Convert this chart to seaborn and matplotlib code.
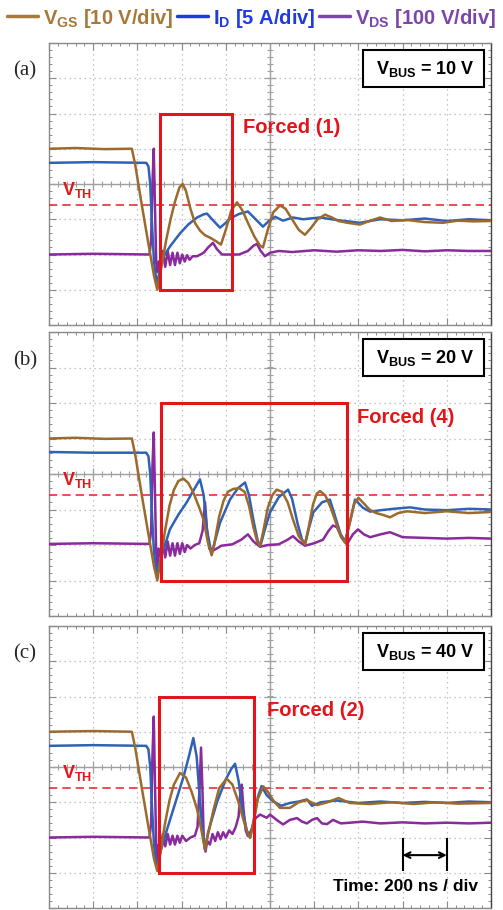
import numpy as np
import pandas as pd
import matplotlib
matplotlib.use("Agg")
import matplotlib.pyplot as plt
import matplotlib.transforms as mtransforms
import seaborn as sns
from matplotlib.lines import Line2D
from matplotlib.patches import Rectangle
from matplotlib.ticker import MultipleLocator

# ---------------- data (time in ns, amplitude in scope divisions) ----------------
vgs_a = [(0, 1.0), (120, 1.02), (250, 0.99), (375, 1.0), (390, 0.55), (420, -0.6), (450, -1.7), (475, -2.6),
         (490, -3.0), (510, -2.3), (530, -1.6), (550, -1.0), (570, -0.5), (590, -0.1), (605, 0.0), (620, -0.2),
         (640, -0.7), (660, -1.1), (683, -1.32), (705, -1.45), (728, -1.52), (755, -1.62), (778, -1.72),
         (800, -1.3), (825, -0.75), (851, -0.52), (875, -0.75), (900, -1.1), (930, -1.5), (955, -1.75),
         (968, -1.8), (990, -1.3), (1015, -0.8), (1045, -0.61), (1070, -0.7), (1100, -1.0), (1130, -1.3),
         (1158, -1.44), (1185, -1.25), (1215, -1.0), (1249, -0.87), (1280, -0.95), (1310, -1.05), (1350, -1.1),
         (1407, -1.15), (1450, -1.05), (1498, -0.95), (1550, -1.05), (1620, -1.02), (1700, -1.08), (1783, -1.1),
         (1850, -1.04), (1920, -1.06), (2000, -1.05)]
id_a = [(0, 0.6), (200, 0.62), (440, 0.6), (450, 0.5), (458, 0.0), (465, -1.0), (475, -2.2), (488, -2.85),
        (500, -2.5), (513, -2.1), (550, -1.75), (593, -1.4), (630, -1.15), (670, -0.95), (700, -0.86),
        (715, -0.84), (745, -1.05), (774, -1.24), (800, -1.1), (819, -0.98), (860, -0.85), (900, -0.78),
        (935, -1.0), (968, -1.21), (995, -1.05), (1023, -0.93), (1059, -1.04), (1104, -0.95), (1150, -1.0),
        (1226, -0.95), (1300, -1.02), (1407, -1.1), (1498, -1.0), (1600, -1.03), (1700, -0.98), (1800, -1.05),
        (1900, -1.0), (2000, -1.03)]
vds_a = [(0, -2.0), (200, -1.98), (455, -2.0), (462, -1.6), (468, 0.0), (474, 1.0), (479, -0.5), (485, -2.2),
         (490, -2.5), (496, -2.2), (505, -2.4), (515, -1.9), (526, -2.35), (537, -1.9), (548, -2.3),
         (559, -1.95), (570, -2.3), (581, -1.95), (592, -2.25), (603, -2.0), (614, -2.2), (625, -2.02),
         (636, -2.15), (650, -2.05), (670, -2.05), (700, -1.95), (720, -1.8), (742, -1.67), (760, -1.85),
         (783, -2.0), (820, -2.0), (860, -2.0), (900, -1.9), (925, -1.75), (941, -1.7), (958, -1.9), (977, -2.05),
         (1000, -1.95), (1040, -1.9), (1100, -1.93), (1200, -1.88), (1300, -1.92), (1400, -1.88), (1500, -1.9),
         (1600, -1.87), (1700, -1.91), (1800, -1.88), (1900, -1.9), (2000, -1.9)]

vgs_b = [(0, 1.0), (120, 1.02), (250, 0.99), (375, 1.0), (390, 0.55), (420, -0.6), (450, -1.7), (475, -2.6),
         (490, -3.0), (505, -2.4), (525, -1.6), (545, -0.9), (565, -0.45), (585, -0.2), (608, -0.13),
         (630, -0.25), (655, -0.55), (680, -0.95), (700, -1.3), (718, -1.9), (736, -2.29), (750, -1.9),
         (770, -1.2), (790, -0.75), (810, -0.5), (834, -0.42), (860, -0.4), (885, -0.5), (905, -0.9),
         (925, -1.5), (942, -1.9), (955, -2.03), (970, -1.6), (990, -0.95), (1010, -0.6), (1030, -0.44),
         (1055, -0.5), (1080, -0.8), (1105, -1.3), (1130, -1.75), (1158, -1.98), (1175, -1.5), (1195, -0.85),
         (1212, -0.55), (1226, -0.48), (1250, -0.6), (1275, -0.95), (1300, -1.4), (1320, -1.75), (1339, -1.93),
         (1360, -1.4), (1380, -0.85), (1400, -0.67), (1420, -0.8), (1450, -1.0), (1480, -1.1), (1510, -1.15),
         (1543, -1.22), (1580, -1.1), (1620, -1.05), (1700, -1.1), (1800, -1.05), (1900, -1.1), (2000, -1.07)]
id_b = [(0, 0.62), (200, 0.6), (440, 0.6), (450, 0.5), (458, 0.0), (465, -1.0), (475, -2.2), (488, -2.85),
        (500, -2.5), (547, -1.56), (585, -1.15), (623, -0.8), (655, -0.45), (683, -0.15), (700, -0.6),
        (715, -1.6), (736, -2.25), (755, -1.8), (774, -1.37), (819, -0.72), (855, -0.4), (887, -0.24),
        (905, -0.6), (925, -1.3), (945, -1.9), (958, -2.0), (975, -1.6), (1000, -1.08), (1040, -0.65),
        (1082, -0.44), (1100, -0.7), (1125, -1.4), (1145, -1.85), (1160, -1.95), (1175, -1.55), (1196, -1.08),
        (1235, -0.8), (1271, -0.72), (1290, -1.1), (1320, -1.7), (1340, -1.9), (1360, -1.4), (1385, -0.72),
        (1420, -0.95), (1453, -1.06), (1500, -1.02), (1560, -0.98), (1633, -0.94), (1700, -1.0), (1800, -1.02),
        (1900, -0.98), (2000, -1.0)]
vds_b = [(0, -1.97), (200, -1.95), (455, -1.97), (462, -1.6), (468, 0.2), (474, 1.17), (479, -0.4), (485, -2.2),
         (490, -2.6), (496, -2.1), (505, -2.35), (515, -1.85), (526, -2.35), (537, -1.9), (548, -2.3),
         (559, -1.95), (570, -2.3), (581, -1.95), (592, -2.25), (603, -1.95), (614, -2.2), (625, -2.0),
         (640, -2.1), (660, -2.0), (680, -1.95), (695, -1.6), (706, -0.8), (714, -1.5), (725, -2.1), (745, -2.15),
         (780, -2.02), (830, -1.98), (870, -1.85), (900, -1.7), (925, -1.9), (955, -2.05), (990, -2.0),
         (1040, -1.98), (1080, -1.85), (1104, -1.75), (1130, -1.9), (1158, -2.02), (1200, -1.95), (1240, -1.85),
         (1265, -1.6), (1285, -1.45), (1303, -1.5), (1325, -1.8), (1348, -1.98), (1375, -1.7), (1398, -1.56),
         (1425, -1.7), (1453, -1.78), (1500, -1.7), (1543, -1.64), (1600, -1.78), (1700, -1.8), (1800, -1.82),
         (1900, -1.8), (2000, -1.82)]

vgs_c = [(0, 1.0), (200, 1.02), (375, 1.0), (390, 0.55), (420, -0.6), (450, -1.7), (475, -2.6), (490, -2.95),
         (505, -2.4), (525, -1.6), (545, -0.95), (565, -0.5), (593, -0.17), (620, -0.3), (645, -0.7),
         (670, -1.2), (690, -1.8), (706, -2.35), (720, -1.9), (745, -1.2), (770, -0.6), (804, -0.33),
         (830, -0.5), (855, -0.95), (880, -1.5), (900, -1.9), (910, -2.01), (925, -1.6), (945, -0.9),
         (970, -0.55), (990, -0.7), (1015, -0.95), (1045, -1.16), (1090, -1.16), (1130, -1.0), (1167, -0.94),
         (1213, -1.08), (1260, -1.0), (1310, -0.88), (1360, -1.02), (1450, -1.05), (1550, -1.0), (1650, -1.05),
         (1750, -1.0), (1850, -1.04), (2000, -1.02)]
id_c = [(0, 0.6), (200, 0.62), (440, 0.6), (450, 0.5), (458, 0.0), (465, -1.0), (475, -2.2), (488, -2.85),
        (500, -2.5), (530, -1.85), (570, -1.05), (610, -0.25), (635, 0.35), (653, 0.82), (668, 0.3),
        (680, -0.7), (694, -1.8), (706, -2.35), (720, -1.85), (760, -1.0), (800, -0.35), (825, -0.05),
        (842, 0.09), (858, -0.4), (875, -1.2), (895, -1.8), (910, -2.0), (925, -1.55), (945, -0.85),
        (962, -0.54), (985, -0.8), (1014, -0.97), (1050, -1.1), (1090, -1.02), (1130, -0.98), (1167, -0.92),
        (1190, -1.1), (1230, -1.0), (1300, -0.95), (1400, -1.02), (1500, -0.98), (1600, -1.02), (1700, -0.99),
        (1800, -1.02), (1900, -0.98), (2000, -1.0)]
vds_c = [(0, -2.0), (200, -1.98), (455, -2.0), (462, -1.6), (468, 0.3), (474, 1.43), (479, -0.3), (485, -2.2),
         (490, -2.8), (496, -2.2), (505, -2.3), (515, -1.9), (526, -2.25), (537, -1.9), (548, -2.2),
         (559, -1.95), (570, -2.2), (581, -1.95), (592, -2.15), (603, -1.95), (620, -2.1), (640, -2.0),
         (660, -1.95), (672, -1.7), (682, -0.5), (688, 0.55), (694, -0.6), (700, -2.0), (708, -2.4),
         (716, -2.1), (728, -2.2), (740, -1.9), (752, -2.1), (764, -1.85), (776, -2.05), (788, -1.85),
         (800, -2.0), (815, -1.8), (830, -1.9), (845, -1.7), (858, -1.4), (866, -0.7), (872, -0.5), (880, -1.2),
         (890, -1.8), (900, -1.96), (915, -1.8), (935, -1.45), (955, -1.35), (985, -1.44), (1000, -1.35),
         (1030, -1.5), (1059, -1.63), (1090, -1.5), (1122, -1.45), (1145, -1.55), (1167, -1.6), (1190, -1.5),
         (1213, -1.45), (1235, -1.6), (1258, -1.62), (1285, -1.5), (1320, -1.6), (1362, -1.58), (1420, -1.55),
         (1500, -1.6), (1600, -1.57), (1700, -1.6), (1800, -1.58), (1900, -1.6), (2000, -1.58)]

panel_tags = ["(a)", "(b)", "(c)"]
bus_labels = ["10 V", "20 V", "40 V"]
forced_labels = ["Forced (1)", "Forced (4)", "Forced (2)"]
forced_box_t = [(502, 828), (505, 1348), (498, 928)]
forced_text_t = [878, 1394, 986]
vth_level = -0.6
legend_labels = [r"V$_{\mathbf{GS}}$ [10 V/div]", r"I$_{\mathbf{D}}$ [5 A/div]", r"V$_{\mathbf{DS}}$ [100 V/div]"]

# ---------------- style ----------------
sns.set_style("white")
plt.rcParams["font.family"] = ["Liberation Sans", "DejaVu Sans"]
plt.rcParams["mathtext.fontset"] = "custom"
plt.rcParams["mathtext.rm"] = "Liberation Sans"
plt.rcParams["mathtext.bf"] = "Liberation Sans:bold"
plt.rcParams["mathtext.it"] = "Liberation Sans:italic"

trace_colors = {"VGS": "#9b6a2c", "ID": "#2f62b6", "VDS": "#8a2a9c"}
legend_colors = ["#a67a3a", "#1f3be0", "#7c45a8"]
RED = "#e3151b"
GRID = "#b4b4b4"
AXC = "#a0a0a0"

W, H = 503, 910
fig = plt.figure(figsize=(W / 100, H / 100), dpi=100)
rows_px = [(43, 325), (332, 616), (626, 908)]
data_sets = [(vgs_a, id_a, vds_a), (vgs_b, id_b, vds_b), (vgs_c, id_c, vds_c)]

for i, ((top, bot), (vgs, idd, vds)) in enumerate(zip(rows_px, data_sets)):
    ax = fig.add_axes([49 / W, (H - bot) / H, 442 / W, (bot - top) / H])
    frames = []
    for name, pts in (("VDS", vds), ("ID", idd), ("VGS", vgs)):
        arr = np.array(pts, dtype=float)
        frames.append(pd.DataFrame({"t": arr[:, 0], "v": arr[:, 1], "trace": name}))
    df = pd.concat(frames, ignore_index=True)
    sns.lineplot(data=df, x="t", y="v", hue="trace", hue_order=["VDS", "ID", "VGS"],
                 palette=trace_colors, estimator=None, sort=False, lw=1.8, legend=False, ax=ax, zorder=4)
    ax.set_xlim(0, 2000)
    ax.set_ylim(-4, 4)
    ax.set_xlabel("")
    ax.set_ylabel("")
    ax.set_axisbelow(True)
    ax.xaxis.set_major_locator(MultipleLocator(200))
    ax.xaxis.set_minor_locator(MultipleLocator(40))
    ax.yaxis.set_major_locator(MultipleLocator(1))
    ax.yaxis.set_minor_locator(MultipleLocator(0.2))
    ax.grid(True, which="major", ls=(0, (1, 3)), color=GRID, lw=0.9)
    ax.tick_params(which="both", direction="in", top=True, right=True, bottom=True, left=True,
                   labelbottom=False, labelleft=False, color="#8a8a8a")
    ax.tick_params(which="major", length=5, width=0.8)
    ax.tick_params(which="minor", length=2.5, width=0.7)
    for s in ax.spines.values():
        s.set_color("#8a8a8a")
        s.set_linewidth(1.0)
    ax.spines["right"].set_color("#444444")

    # centre cross-hair with graticule ticks
    ax.axhline(0, color=AXC, lw=1.0, zorder=1)
    ax.axvline(1000, color=AXC, lw=1.0, zorder=1)
    xm = np.arange(40, 2000, 40)
    ax.plot(xm, np.zeros_like(xm), ls="none", marker="|", ms=4.5, mew=0.8, color=AXC, zorder=1)
    xM = np.arange(200, 2000, 200)
    ax.plot(xM, np.zeros_like(xM), ls="none", marker="|", ms=9, mew=0.9, color=AXC, zorder=1)
    ym = np.arange(-3.8, 4.0, 0.2)
    ax.plot(np.full_like(ym, 1000), ym, ls="none", marker="_", ms=4.5, mew=0.8, color=AXC, zorder=1)
    yM = np.arange(-3, 4, 1)
    ax.plot(np.full_like(yM, 1000.0), yM, ls="none", marker="_", ms=9, mew=0.9, color=AXC, zorder=1)

    # threshold line and label
    ax.axhline(vth_level, color="#e8303a", ls=(0, (5, 3)), lw=1.2, zorder=3)
    ax.text(59, -0.17, r"V$_{\mathbf{TH}}$", color=RED, fontsize=13, fontweight="bold",
            ha="left", va="center", zorder=6)

    # forced-switching box
    x0, x1 = forced_box_t[i]
    ax.add_patch(Rectangle((x0, -3), x1 - x0, 5, fill=False, ec=RED, lw=2.2, zorder=5))
    ax.text(forced_text_t[i], 1.6, forced_labels[i], color=RED, fontsize=14.5, fontweight="bold",
            ha="left", va="center", zorder=6)

    # bus voltage box
    ax.add_patch(Rectangle((1421, 2.75), 547, 1.05, fc="white", ec="black", lw=1.5, zorder=6))
    ax.text(1928, 3.27, r"V$_{\mathbf{BUS}}$ = " + bus_labels[i], color="black", fontsize=13,
            fontweight="bold", ha="right", va="center", zorder=7)

    # panel tag
    tr = mtransforms.blended_transform_factory(ax.transAxes, ax.transData)
    ax.text(-0.055, 3.2, panel_tags[i], transform=tr, family=["Liberation Serif", "DejaVu Serif"],
            fontsize=15, ha="center", va="center")

    if i == 2:
        ax.annotate("", xy=(1600, -2.5), xytext=(1800, -2.5),
                    arrowprops=dict(arrowstyle="<->", color="black", lw=1.5, shrinkA=0, shrinkB=0), zorder=6)
        ax.vlines([1600, 1800], -2.95, -2.0, color="black", lw=1.5, zorder=6)
        ax.text(1615, -3.38, "Time: 200 ns / div", color="black", fontsize=12.5, fontweight="bold",
                ha="center", va="center", zorder=6)

handles = [Line2D([0], [0], color=c, lw=2.5) for c in legend_colors]
fig.legend(handles, legend_labels, loc="center", bbox_to_anchor=(0.5, 1 - 18 / H), ncol=3, frameon=False,
           handlelength=1.55, handletextpad=0.25, columnspacing=0.15, borderaxespad=0, borderpad=0,
           prop={"weight": "bold", "size": 14.5}, labelcolor=legend_colors)

fig.savefig("out.png", dpi=100, facecolor="white")
